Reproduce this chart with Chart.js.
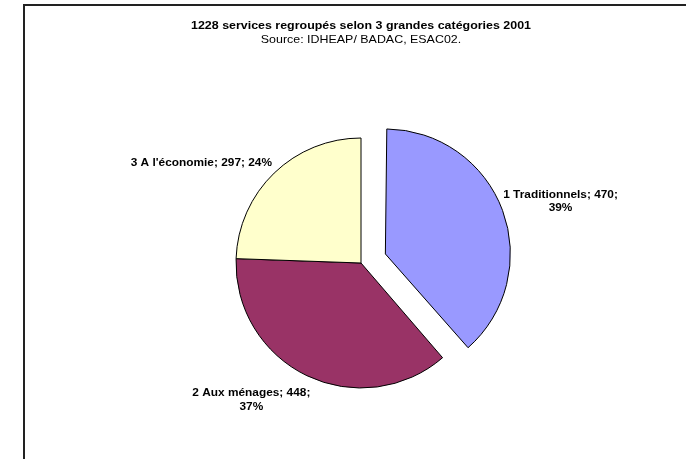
<!DOCTYPE html>
<html><head><meta charset="utf-8">
<script src="https://cdn.jsdelivr.net/npm/chart.js@4.4.1/dist/chart.umd.min.js"></script>
<style>html,body{margin:0;padding:0;background:#fff;} canvas{display:block;}</style>
</head><body>
<canvas id="c" width="686" height="459"></canvas>
<script>
const categories = ['1 Traditionnels', '2 Aux ménages', "3 A l'économie"];
const values = [470, 448, 297];
const sliceColors = ['#9999FF', '#993366', '#FFFFCC'];
const explodePx = [26, 0, 0];
const labelWrap = [true, true, false];
const titleText = '1228 services regroupés selon 3 grandes catégories 2001';
const subtitleText = 'Source: IDHEAP/ BADAC, ESAC02.';

const FONT = "'Liberation Sans', Arial, sans-serif";
const STRETCH = 1.13;
const RADIUS = 125;
const total = values.reduce((a, b) => a + b, 0);

function stretchedText(ctx, text, x, y) {
  ctx.save();
  ctx.translate(x, y);
  ctx.scale(STRETCH, 1);
  ctx.fillText(text, 0, 0);
  ctx.restore();
}

const framePlugin = {
  id: 'frame',
  beforeDraw(chart) {
    const ctx = chart.ctx;
    ctx.save();
    ctx.fillStyle = '#fff';
    ctx.fillRect(0, 0, chart.width, chart.height);
    ctx.strokeStyle = '#222';
    ctx.lineWidth = 2;
    ctx.strokeRect(24, 5, 800, 600);
    ctx.fillStyle = '#000';
    ctx.textAlign = 'center';
    ctx.textBaseline = 'middle';
    ctx.font = 'bold 11px ' + FONT;
    stretchedText(ctx, titleText, 361, 26);
    ctx.font = '11px ' + FONT;
    stretchedText(ctx, subtitleText, 361, 40);
    ctx.restore();
  }
};

// Chart.js grows an offset arc's radius; keep exploded slices the same size as the others
const explodeFixPlugin = {
  id: 'explodeFix',
  afterDatasetUpdate(chart, args) {
    const meta = chart.getDatasetMeta(args.index);
    meta.data.forEach(arc => {
      const off = (arc.options.offset || 0) / 4;
      if (!off) return;
      const fix = 1 - Math.sin(Math.min(Math.PI, arc.circumference || 0));
      arc.outerRadius = RADIUS - off * fix;
    });
  }
};

const labelPlugin = {
  id: 'sliceLabels',
  afterDatasetsDraw(chart, args, opts) {
    const ctx = chart.ctx;
    const meta = chart.getDatasetMeta(0);
    const nudge = opts.nudge || [];
    ctx.save();
    ctx.font = 'bold 10.5px ' + FONT;
    ctx.fillStyle = '#000';
    ctx.textAlign = 'center';
    ctx.textBaseline = 'middle';
    const lineH = 13.5;
    meta.data.forEach((arc, i) => {
      const p = arc.getProps(['x', 'y', 'startAngle', 'endAngle'], true);
      const mid = (p.startAngle + p.endAngle) / 2;
      const off = (arc.options.offset || 0) / 4;
      const cx = p.x + Math.cos(mid) * off, cy = p.y + Math.sin(mid) * off;
      const d = RADIUS + 6;
      const ax = cx + Math.cos(mid) * d, ay = cy + Math.sin(mid) * d;
      const v = chart.data.datasets[0].data[i];
      const pct = Math.round(v / total * 100);
      const lines = labelWrap[i]
        ? [chart.data.labels[i] + '; ' + v + ';', pct + '%']
        : [chart.data.labels[i] + '; ' + v + '; ' + pct + '%'];
      const w = Math.max(...lines.map(l => ctx.measureText(l).width)) * STRETCH;
      const h = lines.length * lineH;
      const n = nudge[i] || [0, 0];
      const bx = ax + (Math.cos(mid) >= 0 ? w / 2 : -w / 2) + n[0];
      const by = ay + Math.sin(mid) * h / 2 + n[1];
      lines.forEach((l, k) => {
        stretchedText(ctx, l, bx, by - h / 2 + lineH / 2 + k * lineH);
      });
    });
    ctx.restore();
  }
};

new Chart(document.getElementById('c'), {
  type: 'pie',
  data: {
    labels: categories,
    datasets: [{
      data: values,
      backgroundColor: sliceColors,
      borderColor: '#000',
      borderWidth: 1,
      offset: explodePx.map(o => o * 4),
      radius: RADIUS
    }]
  },
  options: {
    responsive: false,
    animation: false,
    layout: { padding: { left: 36, right: 0, top: 67, bottom: 0 } },
    plugins: {
      legend: { display: false },
      tooltip: { enabled: false },
      title: { display: false },
      subtitle: { display: false },
      sliceLabels: { nudge: [[-5, -2], [6, 7], [2, -1]] }
    }
  },
  plugins: [framePlugin, explodeFixPlugin, labelPlugin]
});
</script>
</body></html>
